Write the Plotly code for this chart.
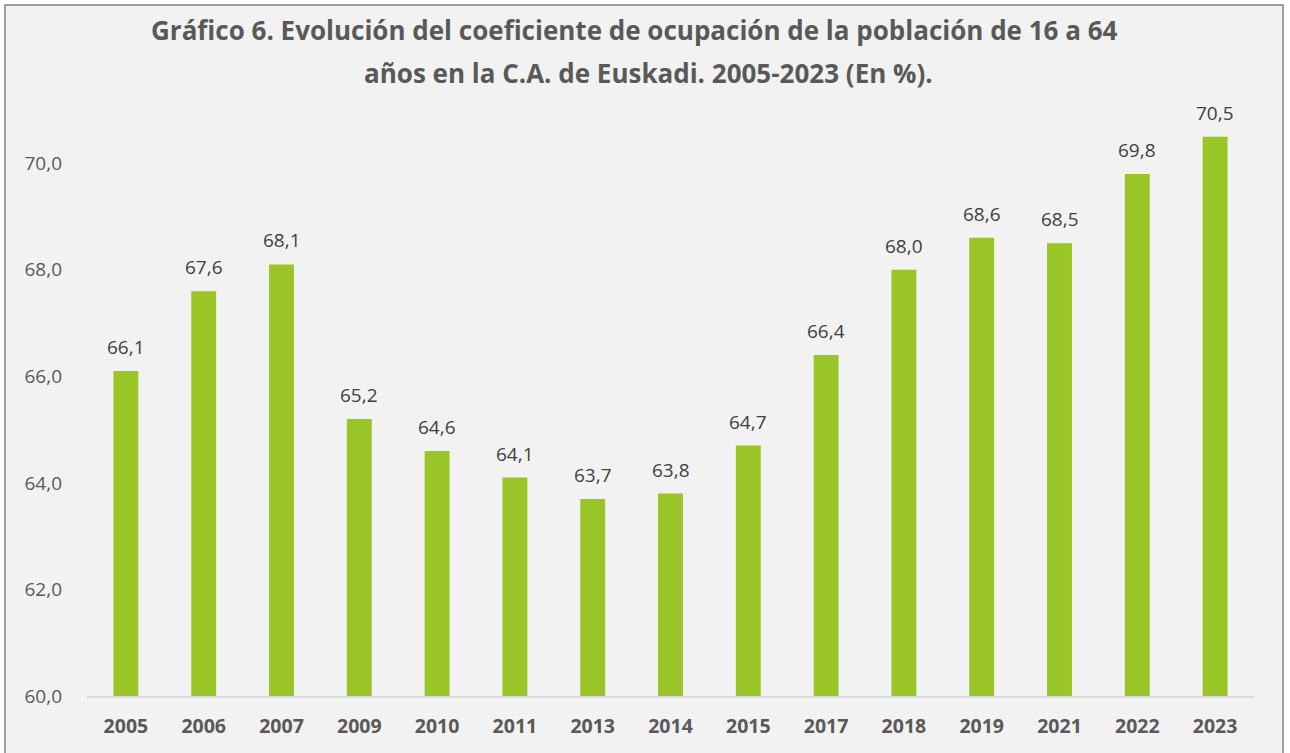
import plotly.graph_objects as go

years = ["2005", "2006", "2007", "2009", "2010", "2011", "2013", "2014", "2015",
         "2017", "2018", "2019", "2021", "2022", "2023"]
values = [66.1, 67.6, 68.1, 65.2, 64.6, 64.1, 63.7, 63.8, 64.7,
          66.4, 68.0, 68.6, 68.5, 69.8, 70.5]
labels = [f"{v:.1f}".replace(".", ",") for v in values]
yticks = [60, 62, 64, 66, 68, 70]
yticklabels = [f"{t:.1f}".replace(".", ",") for t in yticks]
title_lines = ["Gráfico 6. Evolución del coeficiente de ocupación de la población de 16 a 64",
               "años en la C.A. de Euskadi. 2005-2023 (En %)."]

FONT = "Open Sans"
fig = go.Figure(go.Bar(
    x=years, y=values, marker_color="#99C526", marker_line_width=0,
))

L, R, T, B = 87, 36, 110, 57
W, H = 1290, 753
pw, ph = W - L - R, H - T - B

def py(ypix):
    return (H - B - ypix) / ph

annotations = []
for line, xc, yc in zip(title_lines, [634, 648], [30, 73]):
    annotations.append(dict(
        text=line, xref="paper", yref="paper", x=(xc - L) / pw, y=py(yc),
        xanchor="center", yanchor="middle", showarrow=False,
        font=dict(family=FONT, size=26, color="#595959", weight="bold"),
    ))
# category axis: annotation x is the category index
for i, (v, lab) in enumerate(zip(values, labels)):
    annotations.append(dict(
        text=lab, x=i, y=v, xref="x", yref="y", xanchor="center", yanchor="bottom",
        yshift=9, showarrow=False,
        font=dict(family=FONT, size=19, color="#404040"),
    ))

fig.update_layout(
    width=W, height=H,
    margin=dict(l=L, r=R, t=T, b=B),
    paper_bgcolor="#FFFFFF", plot_bgcolor="rgba(0,0,0,0)",
    bargap=0.68,
    showlegend=False,
    annotations=annotations,
    xaxis=dict(
        type="category", range=[-0.5, len(years) - 0.5],
        showline=True, linecolor="#D9D9D9", linewidth=2,
        tickfont=dict(family=FONT, size=19.5, color="#595959", weight="bold"),
        ticks="", ticklabelstandoff=12,
    ),
    yaxis=dict(
        range=[60, 71], tickvals=yticks, ticktext=yticklabels,
        showgrid=False, zeroline=False, showline=False,
        tickfont=dict(family=FONT, size=19, color="#595959"),
        ticklabelstandoff=24,
    ),
    shapes=[dict(
        type="rect", xref="paper", yref="paper", layer="below",
        x0=(5 - L) / pw, x1=(1283 - L) / pw,
        y0=py(770), y1=py(5),
        line=dict(color="#7F7F7F", width=1.5), fillcolor="#F2F2F2",
    )],
)

fig.write_html("out.html", config={"displayModeBar": False},
               post_script="document.body.style.margin='0';document.body.style.overflow='hidden';")
